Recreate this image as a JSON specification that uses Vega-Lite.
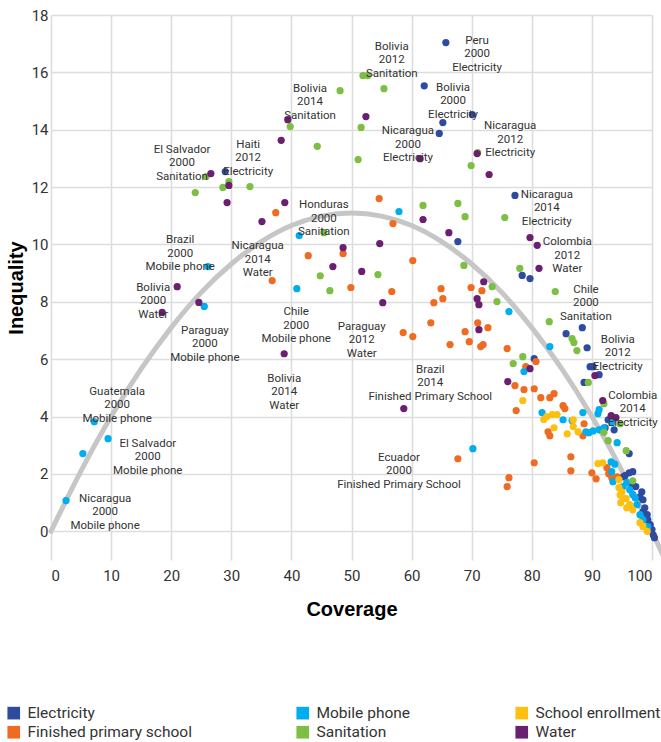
{
  "$schema": "https://vega.github.io/schema/vega-lite/v6.json",
  "width": 601,
  "height": 545,
  "autosize": {"type": "none"},
  "padding": {"left": 51, "top": 15, "right": 9, "bottom": 182},
  "background": "white",
  "config": {
    "view": {"stroke": null},
    "font": "Roboto, Liberation Sans, sans-serif"
  },
  "datasets": {
    "curve": [
      {"x": 0, "y": 0}, {"x": 5, "y": 2.11}, {"x": 10, "y": 4.0}, {"x": 15, "y": 5.66},
      {"x": 20, "y": 7.1}, {"x": 25, "y": 8.33}, {"x": 30, "y": 9.32}, {"x": 35, "y": 10.1},
      {"x": 40, "y": 10.66}, {"x": 45, "y": 10.99}, {"x": 50, "y": 11.1}, {"x": 55, "y": 10.99},
      {"x": 60, "y": 10.66}, {"x": 65, "y": 10.1}, {"x": 70, "y": 9.32}, {"x": 75, "y": 8.33},
      {"x": 80, "y": 7.1}, {"x": 85, "y": 5.66}, {"x": 90, "y": 4.0}, {"x": 95, "y": 2.11},
      {"x": 100, "y": 0}, {"x": 101.8, "y": -0.82}
    ],
    "pts": [
      {"x": 29.0, "y": 12.54, "c": "Electricity"}, {"x": 65.7, "y": 17.04, "c": "Electricity"},
      {"x": 62.1, "y": 15.53, "c": "Electricity"}, {"x": 70.1, "y": 14.53, "c": "Electricity"},
      {"x": 65.2, "y": 14.25, "c": "Electricity"}, {"x": 64.6, "y": 13.87, "c": "Electricity"},
      {"x": 77.2, "y": 11.71, "c": "Electricity"}, {"x": 67.7, "y": 10.1, "c": "Electricity"},
      {"x": 78.4, "y": 8.92, "c": "Electricity"}, {"x": 79.7, "y": 8.81, "c": "Electricity"},
      {"x": 85.7, "y": 6.89, "c": "Electricity"}, {"x": 88.4, "y": 7.1, "c": "Electricity"},
      {"x": 89.2, "y": 6.4, "c": "Electricity"}, {"x": 80.4, "y": 6.02, "c": "Electricity"},
      {"x": 89.7, "y": 5.74, "c": "Electricity"}, {"x": 90.2, "y": 5.74, "c": "Electricity"},
      {"x": 91.2, "y": 5.46, "c": "Electricity"}, {"x": 88.7, "y": 5.19, "c": "Electricity"},
      {"x": 92.7, "y": 3.89, "c": "Electricity"}, {"x": 92.2, "y": 3.61, "c": "Electricity"},
      {"x": 93.7, "y": 3.54, "c": "Electricity"}, {"x": 96.2, "y": 2.71, "c": "Electricity"},
      {"x": 96.8, "y": 2.08, "c": "Electricity"}, {"x": 96.2, "y": 2.04, "c": "Electricity"},
      {"x": 95.5, "y": 1.94, "c": "Electricity"}, {"x": 95.2, "y": 1.9, "c": "Electricity"},
      {"x": 96.7, "y": 1.62, "c": "Electricity"}, {"x": 97.3, "y": 1.56, "c": "Electricity"},
      {"x": 98.3, "y": 1.38, "c": "Electricity"}, {"x": 98.0, "y": 1.2, "c": "Electricity"},
      {"x": 98.5, "y": 1.1, "c": "Electricity"}, {"x": 98.8, "y": 0.82, "c": "Electricity"},
      {"x": 98.5, "y": 0.68, "c": "Electricity"}, {"x": 99.2, "y": 0.58, "c": "Electricity"},
      {"x": 99.3, "y": 0.4, "c": "Electricity"}, {"x": 99.7, "y": 0.23, "c": "Electricity"},
      {"x": 100.0, "y": 0.06, "c": "Electricity"}, {"x": 100.2, "y": -0.12, "c": "Electricity"},
      {"x": 100.4, "y": -0.22, "c": "Electricity"},

      {"x": 37.4, "y": 11.11, "c": "Finished primary school"}, {"x": 42.8, "y": 9.61, "c": "Finished primary school"},
      {"x": 54.6, "y": 11.6, "c": "Finished primary school"}, {"x": 56.9, "y": 10.73, "c": "Finished primary school"},
      {"x": 48.6, "y": 9.68, "c": "Finished primary school"}, {"x": 60.2, "y": 9.44, "c": "Finished primary school"},
      {"x": 36.8, "y": 8.74, "c": "Finished primary school"}, {"x": 49.9, "y": 8.5, "c": "Finished primary school"},
      {"x": 56.7, "y": 8.36, "c": "Finished primary school"}, {"x": 64.9, "y": 8.46, "c": "Finished primary school"},
      {"x": 65.2, "y": 8.11, "c": "Finished primary school"}, {"x": 63.7, "y": 7.97, "c": "Finished primary school"},
      {"x": 69.9, "y": 8.5, "c": "Finished primary school"}, {"x": 71.7, "y": 8.39, "c": "Finished primary school"},
      {"x": 63.2, "y": 7.27, "c": "Finished primary school"}, {"x": 58.6, "y": 6.93, "c": "Finished primary school"},
      {"x": 60.2, "y": 6.79, "c": "Finished primary school"}, {"x": 68.9, "y": 6.96, "c": "Finished primary school"},
      {"x": 71.0, "y": 7.27, "c": "Finished primary school"}, {"x": 72.7, "y": 7.1, "c": "Finished primary school"},
      {"x": 69.6, "y": 6.61, "c": "Finished primary school"}, {"x": 71.9, "y": 6.51, "c": "Finished primary school"},
      {"x": 71.5, "y": 6.44, "c": "Finished primary school"}, {"x": 66.4, "y": 6.51, "c": "Finished primary school"},
      {"x": 75.9, "y": 6.37, "c": "Finished primary school"}, {"x": 80.7, "y": 5.92, "c": "Finished primary school"},
      {"x": 79.0, "y": 5.74, "c": "Finished primary school"}, {"x": 77.2, "y": 5.08, "c": "Finished primary school"},
      {"x": 78.7, "y": 4.94, "c": "Finished primary school"}, {"x": 80.4, "y": 4.97, "c": "Finished primary school"},
      {"x": 81.5, "y": 4.66, "c": "Finished primary school"}, {"x": 83.0, "y": 4.66, "c": "Finished primary school"},
      {"x": 83.7, "y": 4.8, "c": "Finished primary school"}, {"x": 85.2, "y": 4.38, "c": "Finished primary school"},
      {"x": 85.5, "y": 4.28, "c": "Finished primary school"}, {"x": 77.4, "y": 4.21, "c": "Finished primary school"},
      {"x": 88.7, "y": 3.75, "c": "Finished primary school"}, {"x": 82.7, "y": 3.47, "c": "Finished primary school"},
      {"x": 83.0, "y": 3.33, "c": "Finished primary school"}, {"x": 88.5, "y": 3.33, "c": "Finished primary school"},
      {"x": 67.7, "y": 2.53, "c": "Finished primary school"}, {"x": 86.5, "y": 2.6, "c": "Finished primary school"},
      {"x": 80.4, "y": 2.39, "c": "Finished primary school"}, {"x": 86.5, "y": 2.11, "c": "Finished primary school"},
      {"x": 90.0, "y": 2.04, "c": "Finished primary school"}, {"x": 90.7, "y": 1.83, "c": "Finished primary school"},
      {"x": 92.5, "y": 2.22, "c": "Finished primary school"}, {"x": 92.8, "y": 2.01, "c": "Finished primary school"},
      {"x": 93.3, "y": 1.87, "c": "Finished primary school"}, {"x": 94.2, "y": 1.9, "c": "Finished primary school"},
      {"x": 76.2, "y": 1.87, "c": "Finished primary school"}, {"x": 75.9, "y": 1.56, "c": "Finished primary school"},

      {"x": 41.3, "y": 10.31, "c": "Mobile phone"}, {"x": 26.1, "y": 9.23, "c": "Mobile phone"},
      {"x": 57.9, "y": 11.15, "c": "Mobile phone"}, {"x": 40.9, "y": 8.46, "c": "Mobile phone"},
      {"x": 25.5, "y": 7.84, "c": "Mobile phone"}, {"x": 7.2, "y": 3.82, "c": "Mobile phone"},
      {"x": 9.5, "y": 3.23, "c": "Mobile phone"}, {"x": 5.3, "y": 2.71, "c": "Mobile phone"},
      {"x": 2.5, "y": 1.07, "c": "Mobile phone"}, {"x": 76.2, "y": 7.66, "c": "Mobile phone"},
      {"x": 83.0, "y": 6.44, "c": "Mobile phone"}, {"x": 78.7, "y": 5.57, "c": "Mobile phone"},
      {"x": 91.2, "y": 4.24, "c": "Mobile phone"}, {"x": 91.0, "y": 4.1, "c": "Mobile phone"},
      {"x": 88.5, "y": 4.14, "c": "Mobile phone"}, {"x": 81.7, "y": 4.14, "c": "Mobile phone"},
      {"x": 85.2, "y": 3.89, "c": "Mobile phone"}, {"x": 86.7, "y": 3.86, "c": "Mobile phone"},
      {"x": 93.3, "y": 3.79, "c": "Mobile phone"}, {"x": 89.0, "y": 3.47, "c": "Mobile phone"},
      {"x": 90.2, "y": 3.5, "c": "Mobile phone"}, {"x": 89.5, "y": 3.44, "c": "Mobile phone"},
      {"x": 91.2, "y": 3.54, "c": "Mobile phone"}, {"x": 92.0, "y": 3.61, "c": "Mobile phone"},
      {"x": 94.2, "y": 3.09, "c": "Mobile phone"}, {"x": 70.2, "y": 2.88, "c": "Mobile phone"},
      {"x": 93.2, "y": 2.42, "c": "Mobile phone"}, {"x": 93.8, "y": 2.34, "c": "Mobile phone"},
      {"x": 93.3, "y": 2.08, "c": "Mobile phone"}, {"x": 93.5, "y": 1.73, "c": "Mobile phone"},
      {"x": 95.8, "y": 1.7, "c": "Mobile phone"}, {"x": 95.2, "y": 1.56, "c": "Mobile phone"},
      {"x": 96.3, "y": 1.45, "c": "Mobile phone"}, {"x": 96.8, "y": 1.28, "c": "Mobile phone"},
      {"x": 97.2, "y": 1.17, "c": "Mobile phone"}, {"x": 97.5, "y": 0.93, "c": "Mobile phone"},
      {"x": 98.0, "y": 0.58, "c": "Mobile phone"}, {"x": 98.5, "y": 0.4, "c": "Mobile phone"},
      {"x": 99.3, "y": 0.16, "c": "Mobile phone"},

      {"x": 39.8, "y": 14.11, "c": "Sanitation"}, {"x": 44.3, "y": 13.42, "c": "Sanitation"},
      {"x": 25.8, "y": 12.37, "c": "Sanitation"}, {"x": 29.6, "y": 12.19, "c": "Sanitation"},
      {"x": 28.6, "y": 11.99, "c": "Sanitation"}, {"x": 33.1, "y": 12.02, "c": "Sanitation"},
      {"x": 24.0, "y": 11.81, "c": "Sanitation"}, {"x": 45.4, "y": 10.41, "c": "Sanitation"},
      {"x": 51.9, "y": 15.89, "c": "Sanitation"}, {"x": 52.7, "y": 15.89, "c": "Sanitation"},
      {"x": 48.1, "y": 15.36, "c": "Sanitation"}, {"x": 55.4, "y": 15.43, "c": "Sanitation"},
      {"x": 51.6, "y": 14.08, "c": "Sanitation"}, {"x": 51.1, "y": 12.96, "c": "Sanitation"},
      {"x": 71.0, "y": 13.2, "c": "Sanitation"}, {"x": 69.9, "y": 12.75, "c": "Sanitation"},
      {"x": 67.7, "y": 11.43, "c": "Sanitation"}, {"x": 61.9, "y": 11.36, "c": "Sanitation"},
      {"x": 68.9, "y": 10.97, "c": "Sanitation"}, {"x": 75.5, "y": 10.94, "c": "Sanitation"},
      {"x": 68.7, "y": 9.27, "c": "Sanitation"}, {"x": 78.0, "y": 9.17, "c": "Sanitation"},
      {"x": 44.8, "y": 8.91, "c": "Sanitation"}, {"x": 46.4, "y": 8.39, "c": "Sanitation"},
      {"x": 54.4, "y": 8.95, "c": "Sanitation"}, {"x": 73.4, "y": 8.53, "c": "Sanitation"},
      {"x": 74.2, "y": 8.01, "c": "Sanitation"}, {"x": 83.9, "y": 8.36, "c": "Sanitation"},
      {"x": 82.9, "y": 7.31, "c": "Sanitation"}, {"x": 86.7, "y": 6.72, "c": "Sanitation"},
      {"x": 87.0, "y": 6.58, "c": "Sanitation"}, {"x": 87.5, "y": 6.3, "c": "Sanitation"},
      {"x": 78.5, "y": 6.09, "c": "Sanitation"}, {"x": 76.9, "y": 5.85, "c": "Sanitation"},
      {"x": 89.4, "y": 5.19, "c": "Sanitation"}, {"x": 92.0, "y": 4.45, "c": "Sanitation"},
      {"x": 94.7, "y": 3.75, "c": "Sanitation"}, {"x": 92.0, "y": 3.45, "c": "Sanitation"},
      {"x": 92.7, "y": 3.16, "c": "Sanitation"}, {"x": 95.7, "y": 2.81, "c": "Sanitation"},
      {"x": 96.8, "y": 1.76, "c": "Sanitation"},

      {"x": 78.5, "y": 4.56, "c": "School enrollment"}, {"x": 82.5, "y": 4.0, "c": "School enrollment"},
      {"x": 83.4, "y": 4.07, "c": "School enrollment"}, {"x": 84.2, "y": 4.07, "c": "School enrollment"},
      {"x": 86.9, "y": 3.89, "c": "School enrollment"}, {"x": 83.7, "y": 3.61, "c": "School enrollment"},
      {"x": 86.9, "y": 3.65, "c": "School enrollment"}, {"x": 85.9, "y": 3.4, "c": "School enrollment"},
      {"x": 87.7, "y": 3.47, "c": "School enrollment"}, {"x": 82.0, "y": 3.9, "c": "School enrollment"},
      {"x": 91.0, "y": 2.36, "c": "School enrollment"}, {"x": 91.8, "y": 2.39, "c": "School enrollment"},
      {"x": 94.5, "y": 1.8, "c": "School enrollment"}, {"x": 94.5, "y": 1.52, "c": "School enrollment"},
      {"x": 95.0, "y": 1.38, "c": "School enrollment"}, {"x": 94.7, "y": 1.27, "c": "School enrollment"},
      {"x": 95.2, "y": 1.17, "c": "School enrollment"}, {"x": 94.8, "y": 1.0, "c": "School enrollment"},
      {"x": 95.7, "y": 1.14, "c": "School enrollment"}, {"x": 96.3, "y": 0.93, "c": "School enrollment"},
      {"x": 96.8, "y": 0.75, "c": "School enrollment"}, {"x": 98.0, "y": 0.3, "c": "School enrollment"},
      {"x": 98.5, "y": 0.16, "c": "School enrollment"}, {"x": 99.2, "y": 0.0, "c": "School enrollment"},
      {"x": 95.8, "y": 0.82, "c": "School enrollment"},

      {"x": 39.4, "y": 14.35, "c": "Water"}, {"x": 38.3, "y": 13.63, "c": "Water"},
      {"x": 26.6, "y": 12.47, "c": "Water"}, {"x": 29.6, "y": 12.06, "c": "Water"},
      {"x": 29.3, "y": 11.46, "c": "Water"}, {"x": 38.9, "y": 11.46, "c": "Water"},
      {"x": 35.1, "y": 10.8, "c": "Water"}, {"x": 52.4, "y": 14.46, "c": "Water"},
      {"x": 61.4, "y": 12.99, "c": "Water"}, {"x": 70.9, "y": 13.17, "c": "Water"},
      {"x": 72.9, "y": 12.44, "c": "Water"}, {"x": 61.9, "y": 10.87, "c": "Water"},
      {"x": 79.7, "y": 10.24, "c": "Water"}, {"x": 80.9, "y": 9.97, "c": "Water"},
      {"x": 66.2, "y": 10.41, "c": "Water"}, {"x": 54.7, "y": 10.03, "c": "Water"},
      {"x": 48.6, "y": 9.89, "c": "Water"}, {"x": 81.2, "y": 9.17, "c": "Water"},
      {"x": 21.0, "y": 8.53, "c": "Water"}, {"x": 24.6, "y": 7.98, "c": "Water"},
      {"x": 18.5, "y": 7.63, "c": "Water"}, {"x": 38.8, "y": 6.19, "c": "Water"},
      {"x": 46.9, "y": 9.23, "c": "Water"}, {"x": 51.7, "y": 9.06, "c": "Water"},
      {"x": 72.0, "y": 8.7, "c": "Water"}, {"x": 55.2, "y": 7.97, "c": "Water"},
      {"x": 70.9, "y": 8.11, "c": "Water"}, {"x": 71.2, "y": 7.9, "c": "Water"},
      {"x": 71.2, "y": 7.03, "c": "Water"}, {"x": 79.7, "y": 5.67, "c": "Water"},
      {"x": 90.5, "y": 5.43, "c": "Water"}, {"x": 76.0, "y": 5.22, "c": "Water"},
      {"x": 58.7, "y": 4.28, "c": "Water"}, {"x": 91.8, "y": 4.56, "c": "Water"},
      {"x": 93.2, "y": 4.03, "c": "Water"}, {"x": 94.0, "y": 3.96, "c": "Water"}
    ],
    "notes": [
      {"t": "Bolivia\n2014\nSanitation", "x": 43.1, "y": 15.43},
      {"t": "El Salvador\n2000\nSanitation", "x": 21.8, "y": 13.31},
      {"t": "Haiti\n2012\nElectricity", "x": 32.8, "y": 13.48},
      {"t": "Honduras\n2000\nSanitation", "x": 45.4, "y": 11.36},
      {"t": "Brazil\n2000\nMobile phone", "x": 21.5, "y": 10.14},
      {"t": "Nicaragua\n2014\nWater", "x": 34.4, "y": 9.93},
      {"t": "Bolivia\n2012\nSanitation", "x": 56.7, "y": 16.9},
      {"t": "Peru\n2000\nElectricity", "x": 70.9, "y": 17.11},
      {"t": "Bolivia\n2000\nElectricity", "x": 66.9, "y": 15.47},
      {"t": "Nicaragua\n2000\nElectricity", "x": 59.4, "y": 13.94},
      {"t": "Nicaragua\n2012\nElectricity", "x": 76.4, "y": 14.12},
      {"t": "Nicaragua\n2014\nElectricity", "x": 82.5, "y": 11.74},
      {"t": "Colombia\n2012\nWater", "x": 85.9, "y": 10.07},
      {"t": "Bolivia\n2000\nWater", "x": 17.0, "y": 8.5},
      {"t": "Paraguay\n2000\nMobile phone", "x": 25.6, "y": 6.99},
      {"t": "Chile\n2000\nMobile phone", "x": 40.8, "y": 7.63},
      {"t": "Bolivia\n2014\nWater", "x": 38.8, "y": 5.32},
      {"t": "Guatemala\n2000\nMobile phone", "x": 11.0, "y": 4.87},
      {"t": "El Salvador\n2000\nMobile phone", "x": 16.1, "y": 3.06},
      {"t": "Nicaragua\n2000\nMobile phone", "x": 9.0, "y": 1.14},
      {"t": "Paraguay\n2012\nWater", "x": 51.7, "y": 7.13},
      {"t": "Chile\n2000\nSanitation", "x": 89.0, "y": 8.43},
      {"t": "Bolivia\n2012\nElectricity", "x": 94.3, "y": 6.68},
      {"t": "Brazil\n2014\nFinished Primary School", "x": 63.1, "y": 5.63},
      {"t": "Colombia\n2014\nElectricity", "x": 96.8, "y": 4.73},
      {"t": "Ecuador\n2000\nFinished Primary School", "x": 57.9, "y": 2.57}
    ]
  },
  "layer": [
    {
      "data": {"name": "curve"},
      "mark": {"type": "line", "interpolate": "monotone", "color": "#c6c6c6", "strokeWidth": 5, "strokeCap": "round", "clip": false},
      "encoding": {
        "x": {
          "field": "x", "type": "quantitative",
          "scale": {"domain": [0, 100], "nice": false, "zero": false},
          "axis": {
            "values": [0, 10, 20, 30, 40, 50, 60, 70, 80, 90, 100],
            "title": "Coverage", "titleFont": "Liberation Sans, Arial, sans-serif", "titleFontWeight": "bold",
            "titleFontSize": 20, "titleColor": "#000", "titlePadding": 16,
            "labelFont": "Roboto", "labelFontSize": 15, "labelColor": "#333", "labelFontWeight": "normal", "labelPadding": 8,
            "ticks": false, "domain": false,
            "grid": true, "gridColor": "#dddddd", "gridWidth": 1.6
          }
        },
        "y": {
          "field": "y", "type": "quantitative",
          "scale": {"domain": [-1, 18], "nice": false, "zero": false},
          "axis": {
            "values": [0, 2, 4, 6, 8, 10, 12, 14, 16, 18],
            "title": "Inequality", "titleFont": "Liberation Sans, Arial, sans-serif", "titleFontWeight": "bold",
            "titleFontSize": 20, "titleColor": "#000", "titlePadding": 5,
            "labelFont": "Roboto", "labelFontSize": 15, "labelColor": "#333", "labelPadding": 3,
            "ticks": false, "domain": false,
            "grid": true, "gridColor": "#dddddd", "gridWidth": 1.6
          }
        }
      }
    },
    {
      "data": {"name": "pts"},
      "mark": {"type": "circle", "size": 52, "opacity": 1, "clip": false},
      "encoding": {
        "x": {"field": "x", "type": "quantitative"},
        "y": {"field": "y", "type": "quantitative"},
        "color": {
          "field": "c", "type": "nominal",
          "scale": {
            "domain": ["Electricity", "Mobile phone", "School enrollment", "Finished primary school", "Sanitation", "Water"],
            "range": ["#2f4b9f", "#00adee", "#fdc010", "#f06b22", "#7cbf42", "#6a1f70"]
          },
          "legend": {
            "title": null, "orient": "none", "legendX": -45, "legendY": 690,
            "direction": "horizontal", "columns": 3, "columnPadding": 103, "rowPadding": 2.5,
            "symbolType": "square", "symbolSize": 160, "symbolStrokeWidth": 0, "symbolOpacity": 1,
            "labelFont": "Roboto", "labelFontSize": 15.5, "labelColor": "#333", "labelOffset": 6, "labelLimit": 400, "padding": 0
          }
        }
      }
    },
    {
      "data": {"name": "notes"},
      "mark": {"type": "text", "lineBreak": "\n", "align": "center", "baseline": "middle", "font": "Roboto", "fontSize": 11.5, "lineHeight": 13.5, "color": "#333"},
      "encoding": {
        "x": {"field": "x", "type": "quantitative"},
        "y": {"field": "y", "type": "quantitative"},
        "text": {"field": "t", "type": "nominal"}
      }
    }
  ]
}
